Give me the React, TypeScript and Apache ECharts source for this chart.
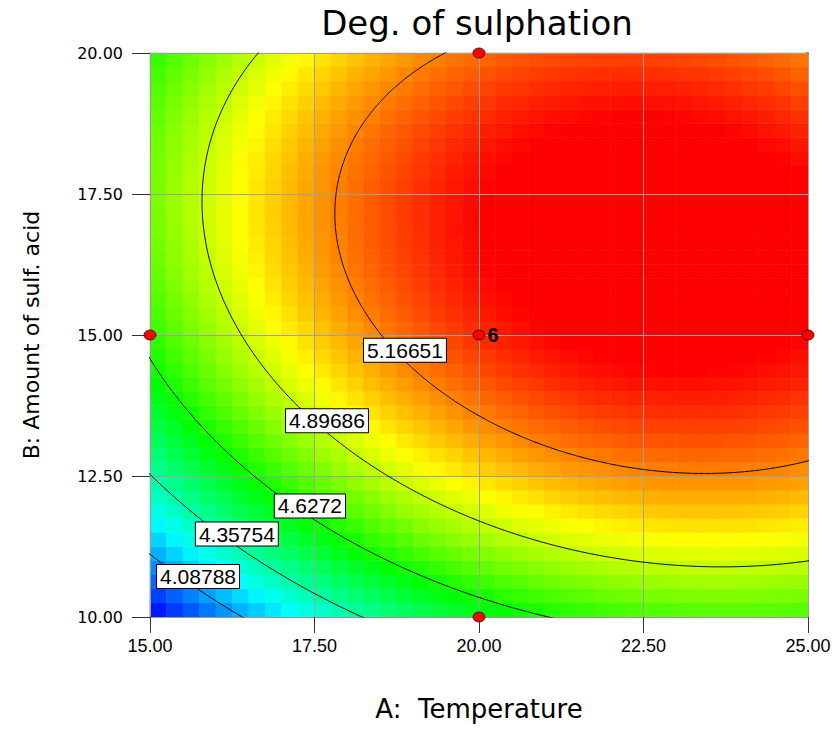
import React, { useEffect, useRef } from "react";
import * as echarts from "echarts";

// ---- texts ----
const titleText = "Deg. of sulphation";
const xAxisName = "A:  Temperature";
const yAxisName = "B: Amount of sulf. acid";

// ---- factor ranges (actual units) ----
const temperatureRange = [15, 25];
const acidRange = [10, 20];
const tickStep = 2.5;

// ---- fitted quadratic response model, coded units (-1..+1) ----
// terms: Intercept, A, B, AB, A^2, B^2
const modelCoefficients = [5.294, 0.345, 0.324, -0.09, -0.284, -0.422];

// ---- colour scale ----
const colorScaleRange = [3.85, 5.36];
const colorStops = ["#0000ff", "#00ffff", "#00ff00", "#ffff00", "#ff0000"];
const gridCells = 40;

// ---- contour levels and where their labels sit ----
const contourLevels = [4.08788, 4.35754, 4.6272, 4.89686, 5.16651];
const contourLabelTemperature = [15.73, 16.32, 17.43, 17.69, 18.875];
const contourLabelAcid = [10.72, 11.47, 11.97, 13.48, 14.73];

// ---- design points ----
const designTemperature = [15, 20, 25, 20, 20];
const designAcid = [15, 20, 15, 10, 15];
const designReplicates = [1, 1, 1, 1, 6];

const cA = (temperatureRange[0] + temperatureRange[1]) / 2;
const hA = (temperatureRange[1] - temperatureRange[0]) / 2;
const cB = (acidRange[0] + acidRange[1]) / 2;
const hB = (acidRange[1] - acidRange[0]) / 2;
const [k0, kA, kB, kAB, kAA, kBB] = modelCoefficients;

function predictCoded(a: number, b: number) {
  return k0 + kA * a + kB * b + kAB * a * b + kAA * a * a + kBB * b * b;
}
function predict(A: number, B: number) {
  return predictCoded((A - cA) / hA, (B - cB) / hB);
}

function buildHeat() {
  const out: number[][] = [];
  const dA = (temperatureRange[1] - temperatureRange[0]) / gridCells;
  const dB = (acidRange[1] - acidRange[0]) / gridCells;
  for (let i = 0; i < gridCells; i++) {
    for (let j = 0; j < gridCells; j++) {
      const A = temperatureRange[0] + (i + 0.5) * dA;
      const B = acidRange[0] + (j + 0.5) * dB;
      out.push([i, j, predict(A, B)]);
    }
  }
  return out;
}

// contours of a quadratic are ellipses around the stationary point
const det = 4 * kAA * kBB - kAB * kAB;
const a0 = (kAB * kB - 2 * kBB * kA) / det;
const b0 = (kAB * kA - 2 * kAA * kB) / det;
const peak = predictCoded(a0, b0);

function buildContour(level: number) {
  const pts: number[][] = [];
  const n = 1440;
  for (let k = 0; k <= n; k++) {
    const t = (2 * Math.PI * k) / n;
    const c = Math.cos(t);
    const s = Math.sin(t);
    const q = kAA * c * c + kAB * c * s + kBB * s * s;
    const r = Math.sqrt((level - peak) / q);
    pts.push([cA + hA * (a0 + r * c), cB + hB * (b0 + r * s)]);
  }
  return pts;
}

export default function App() {
  const ref = useRef<HTMLDivElement>(null);

  useEffect(() => {
    if (!ref.current) return;
    const chart = echarts.init(ref.current, undefined, { renderer: "svg" });
    const cats = Array.from({ length: gridCells }, (_, i) => String(i));

    const contourSeries = contourLevels.map((lv) => ({
      type: "line",
      xAxisIndex: 1,
      yAxisIndex: 1,
      data: buildContour(lv),
      showSymbol: false,
      symbol: "none",
      smooth: false,
      clip: true,
      silent: true,
      z: 4,
      lineStyle: { color: "#000", width: 1 },
    }));

    const option: any = {
      animation: false,
      title: {
        text: titleText,
        left: 477,
        top: 6,
        textAlign: "center",
        padding: 0,
        textStyle: {
          fontFamily: "DejaVu Sans",
          fontSize: 34,
          fontWeight: "normal",
          color: "#000",
        },
      },
      grid: {
        left: 150,
        top: 53,
        width: 658,
        height: 564,
        containLabel: false,
        outerBoundsMode: "none",
      },
      visualMap: {
        type: "continuous",
        show: false,
        seriesIndex: 0,
        dimension: 2,
        min: colorScaleRange[0],
        max: colorScaleRange[1],
        inRange: { color: colorStops },
      },
      xAxis: [
        {
          type: "category",
          gridIndex: 0,
          data: cats,
          show: false,
          position: "bottom",
          boundaryGap: true,
        },
        {
          type: "value",
          gridIndex: 0,
          position: "bottom",
          min: temperatureRange[0],
          max: temperatureRange[1],
          interval: tickStep,
          name: xAxisName,
          nameLocation: "middle",
          nameGap: 79,
          nameTextStyle: { fontFamily: "DejaVu Sans", fontSize: 26, color: "#000" },
          axisLine: { show: true, lineStyle: { color: "#999", width: 1 } },
          axisTick: { show: true, length: 16, lineStyle: { color: "#333", width: 1 } },
          axisLabel: {
            formatter: (v: number) => v.toFixed(2),
            fontFamily: "Liberation Sans",
            fontSize: 18,
            color: "#000",
            margin: 20,
          },
          splitLine: { show: true, lineStyle: { color: "#a0a0a0", width: 1 } },
          z: 3,
        },
      ],
      yAxis: [
        {
          type: "category",
          gridIndex: 0,
          data: cats,
          show: false,
          position: "left",
          boundaryGap: true,
        },
        {
          type: "value",
          gridIndex: 0,
          position: "left",
          min: acidRange[0],
          max: acidRange[1],
          interval: tickStep,
          name: yAxisName,
          nameLocation: "middle",
          nameGap: 108,
          nameRotate: 90,
          nameTextStyle: { fontFamily: "DejaVu Sans", fontSize: 22, color: "#000" },
          axisLine: { show: true, lineStyle: { color: "#999", width: 1 } },
          axisTick: { show: true, length: 18, lineStyle: { color: "#333", width: 1 } },
          axisLabel: {
            formatter: (v: number) => v.toFixed(2),
            fontFamily: "DejaVu Sans",
            fontSize: 16,
            color: "#000",
            margin: 27,
          },
          splitLine: { show: true, lineStyle: { color: "#a0a0a0", width: 1 } },
          z: 3,
        },
      ],
      series: [
        {
          type: "heatmap",
          xAxisIndex: 0,
          yAxisIndex: 0,
          data: buildHeat(),
          z: 1,
          silent: true,
          emphasis: { disabled: true },
        },
        ...contourSeries,
        {
          type: "scatter",
          xAxisIndex: 1,
          yAxisIndex: 1,
          z: 6,
          silent: true,
          symbol: "rect",
          symbolSize: 2,
          itemStyle: { color: "rgba(0,0,0,0)", opacity: 1 },
          clip: false,
          data: contourLevels.map((lv, i) => ({
            value: [contourLabelTemperature[i], contourLabelAcid[i]],
            label: { formatter: String(lv) },
          })),
          label: {
            show: true,
            position: "inside",
            fontFamily: "Liberation Sans",
            fontSize: 21,
            lineHeight: 21,
            color: "#000",
            backgroundColor: "#fff",
            borderColor: "#000",
            borderWidth: 1,
            padding: [2, 3, 0, 3],
          },
        },
        {
          type: "scatter",
          xAxisIndex: 1,
          yAxisIndex: 1,
          z: 8,
          silent: true,
          clip: false,
          symbol: "circle",
          symbolSize: [12, 10],
          itemStyle: { color: "#ff0000", borderColor: "#300", borderWidth: 0.8, opacity: 1 },
          data: designTemperature.map((a, i) => ({
            value: [a, designAcid[i]],
            label: {
              show: designReplicates[i] > 1,
              formatter: String(designReplicates[i]),
            },
          })),
          label: {
            position: "right",
            distance: 2,
            fontFamily: "Liberation Sans",
            fontWeight: "bold",
            fontSize: 20,
            color: "#000",
          },
        },
      ],
    };

    chart.setOption(option);
    return () => chart.dispose();
  }, []);

  return (
    <div
      ref={ref}
      style={{ position: "absolute", left: 0, top: 0, width: 839, height: 740 }}
    />
  );
}
